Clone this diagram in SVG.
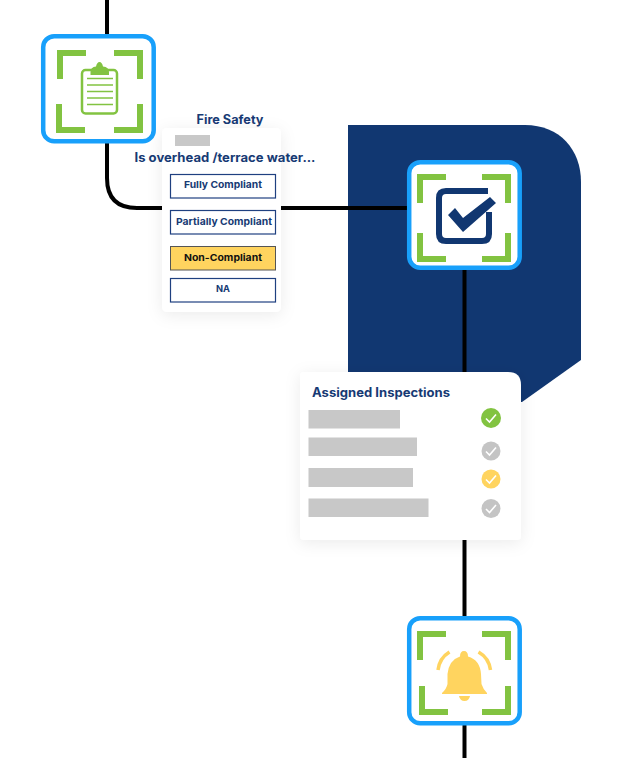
<svg xmlns="http://www.w3.org/2000/svg" width="624" height="758" viewBox="0 0 624 758">
<style>
.frame{fill:#fff;stroke:#18a0fb;stroke-width:4.5}
.br{fill:none;stroke:#82c341;stroke-width:6;stroke-linejoin:miter}
.conn{fill:none;stroke:#000;stroke-width:4}
.t{font-family:"Inter","Liberation Sans",sans-serif;font-weight:700;fill:#173a74}
.btn{fill:#fff;stroke:#1f4080;stroke-width:1.2}
.bt{font-size:9.5px;text-anchor:middle}
.bar{fill:#c8c8c8}
.tick{fill:none;stroke:#fff;stroke-width:1.6}
.cl{stroke:#82c341;stroke-width:1.6}
</style>
<defs>
<filter id="sh" x="-25%" y="-25%" width="150%" height="150%"><feDropShadow dx="0" dy="3" stdDeviation="8" flood-color="#000" flood-opacity="0.08"/></filter>
</defs>
<path id="backdrop" d="M348 125H525C560 125 581 150 581 182V360L522 402H348Z" fill="#113771"/>
<g id="connectors">
<path class="conn" d="M107 0V34"/>
<path class="conn" d="M107 143V178Q107 208 137 208H408"/>
<path class="conn" d="M464.500 270V372"/>
<path class="conn" d="M464.500 540V616"/>
<path class="conn" d="M464.500 725V758"/>
</g>
<g id="node-clipboard">
<rect class="frame" x="43.200" y="36.200" width="110.500" height="105" rx="11"/>
<path class="br" d="M86 53H60V79M114 53H140V79M59 104V130H85M140 104V130H114"/>
<rect x="82" y="70" width="35" height="43.500" rx="3.500" fill="#fff" stroke="#82c341" stroke-width="2.500"/>
<path d="M90.500 75V72Q90.500 67 96 66.500Q97 62 99.500 62Q102 62 103 66.500Q109 67 109 72V75Z" fill="#82c341"/>
<path class="cl" d="M87 78.500H113M87 85H113M87 91.500H113M87 98H113M87 104.500H113"/>
</g>
<g id="card-fire-safety">
<rect x="162" y="128" width="119" height="184" rx="5" fill="#fff" filter="url(#sh)"/>
<text class="t" x="230" y="124" font-size="12.500" text-anchor="middle" textLength="67" lengthAdjust="spacingAndGlyphs">Fire Safety</text>
<rect class="bar" x="175" y="135" width="35" height="11"/>
<text class="t" x="225" y="162" font-size="12.500" text-anchor="middle" textLength="181" lengthAdjust="spacingAndGlyphs">Is overhead /terrace water...</text>
<rect class="btn" x="170.500" y="174.500" width="105" height="23.500"/>
<text class="t bt" x="223" y="188" textLength="78" lengthAdjust="spacingAndGlyphs">Fully Compliant</text>
<rect class="btn" x="170.500" y="210.500" width="105" height="23.500"/>
<text class="t bt" x="224" y="225" textLength="96" lengthAdjust="spacingAndGlyphs">Partially Compliant</text>
<rect x="170.500" y="246.500" width="105" height="23.500" fill="#ffd45f" stroke="#555" stroke-width="1"/>
<text x="223" y="261" class="bt" font-family="Inter,'Liberation Sans',sans-serif" font-weight="700" fill="#111" textLength="78" lengthAdjust="spacingAndGlyphs">Non-Compliant</text>
<rect class="btn" x="170.500" y="278.500" width="105" height="23.500"/>
<text class="t bt" x="223" y="292" textLength="14" lengthAdjust="spacingAndGlyphs">NA</text>
</g>
<g id="node-check">
<rect class="frame" x="409.200" y="162.200" width="110.500" height="105.500" rx="11"/>
<path class="br" d="M446 177H420V203M482 177H508V203M420 233V259H446M508 233V259H482"/>
<path d="M488 191H446Q439 191 439 198V234Q439 241 446 241H482Q489 241 489 234V212" fill="none" stroke="#113771" stroke-width="6"/>
<path d="M448 215L455 208L463 218L490 197L496 203L463 232Z" fill="#113771"/>
</g>
<g id="card-assigned">
<path d="M304 372H508Q521 372 521 385V536Q521 540 517 540H304Q300 540 300 536V376Q300 372 304 372Z" fill="#fff" filter="url(#sh)"/>
<text class="t" x="312" y="397" font-size="12.500" textLength="138" lengthAdjust="spacingAndGlyphs">Assigned Inspections</text>
<rect class="bar" x="308.500" y="410" width="91.500" height="18.500"/>
<rect class="bar" x="308.500" y="437.500" width="108.500" height="18.500"/>
<rect class="bar" x="308.500" y="468" width="104.500" height="19"/>
<rect class="bar" x="308.500" y="498.500" width="120" height="18.500"/>
<circle cx="491" cy="418" r="10" fill="#82c341"/>
<path class="tick" d="M486 418.500L489.500 422L496 414.500"/>
<circle cx="491" cy="451" r="9.500" fill="#c4c4c4"/>
<path class="tick" d="M486 451.500L489.500 455L496 447.500"/>
<circle cx="491" cy="479" r="9.500" fill="#ffd45f"/>
<path class="tick" d="M486 479.500L489.500 483L496 475.500"/>
<circle cx="491" cy="508.500" r="9.500" fill="#c4c4c4"/>
<path class="tick" d="M486 509L489.500 512.500L496 505"/>
</g>
<g id="node-bell">
<rect class="frame" x="409.200" y="618.200" width="110.500" height="105" rx="11"/>
<path class="br" d="M446 634H420V660M482 634H508V660M422 686V712H448M508 686V712H482"/>
<path d="M464 651Q468 651 468 656.500Q480 660 481 674L481.500 684Q483 689 487 693V694H442V693Q446.500 689 447.500 684V674Q449 660 460 656.500Q460 651 464 651Z" fill="#ffd45f"/>
<path d="M459 696H470Q469 701 464.500 701Q460 701 459 696Z" fill="#ffd45f"/>
<path d="M449.500 652Q439.500 658 438 670M478.500 652Q489 658 490.500 670" fill="none" stroke="#ffd45f" stroke-width="3.500"/>
</g>
</svg>
